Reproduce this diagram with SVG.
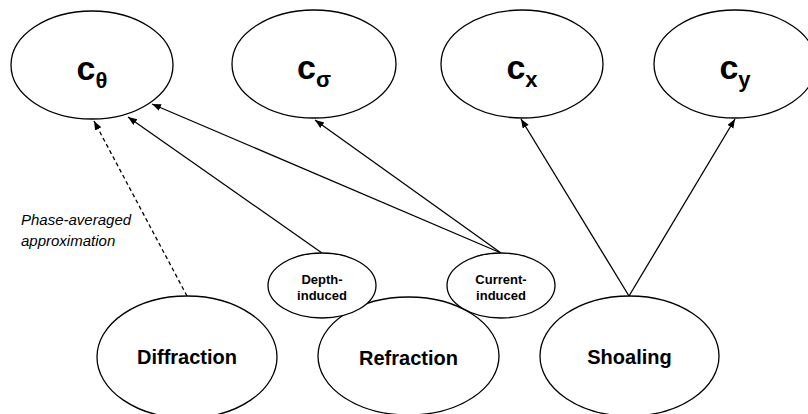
<svg xmlns="http://www.w3.org/2000/svg" width="808" height="414" viewBox="0 0 808 414">
<style>
.n{fill:#fff;stroke:#000;stroke-width:1.3}
.big{font-family:"Liberation Sans",Arial,sans-serif;font-weight:bold;font-size:34px;fill:#000}
.lbl{font-family:"Liberation Sans",Arial,sans-serif;font-weight:bold;font-size:20px;fill:#000}
.sm{font-family:"Liberation Sans",Arial,sans-serif;font-weight:bold;font-size:13px;fill:#000}
.it{font-family:"Liberation Sans",Arial,sans-serif;font-style:italic;font-size:15px;fill:#000}
.e{stroke:#000;stroke-width:1.3;fill:none;marker-end:url(#ah)}
</style>
<defs>
<marker id="ah" markerUnits="userSpaceOnUse" markerWidth="10" markerHeight="8" refX="9" refY="3.5" orient="auto">
<path d="M0,0 L9,3.5 L0,7 z" fill="#000"/>
</marker>
</defs>
<rect width="808" height="414" fill="#fff"/>
<g id="c_theta"><ellipse class="n" cx="92" cy="65" rx="81" ry="54"/><text class="big" x="92" y="80" text-anchor="middle">c<tspan font-size="22" dy="8">θ</tspan></text></g>
<g id="c_sigma"><ellipse class="n" cx="314" cy="64" rx="82" ry="54"/><text class="big" x="314" y="79" text-anchor="middle">c<tspan font-size="22" dy="8">σ</tspan></text></g>
<g id="c_x"><ellipse class="n" cx="522" cy="64" rx="81" ry="54"/><text class="big" x="522" y="79" text-anchor="middle">c<tspan font-size="22" dy="8">x</tspan></text></g>
<g id="c_y"><ellipse class="n" cx="735" cy="64" rx="81" ry="54"/><text class="big" x="735" y="79" text-anchor="middle">c<tspan font-size="22" dy="8">y</tspan></text></g>
<g id="connectors">
<line class="e" x1="187" y1="296" x2="94" y2="121" stroke-dasharray="4,3"/>
<line class="e" x1="322" y1="253" x2="128" y2="117"/>
<line class="e" x1="501" y1="253" x2="152" y2="104"/>
<line class="e" x1="501" y1="253" x2="315" y2="120"/>
<line class="e" x1="629" y1="296" x2="521" y2="119"/>
<line class="e" x1="629" y1="296" x2="735" y2="119"/>
</g>
<text class="it" x="21" y="225">Phase-averaged</text>
<text class="it" x="21" y="246">approximation</text>
<g id="diffraction"><ellipse class="n" cx="187" cy="357" rx="90" ry="61"/><text class="lbl" x="187" y="364" text-anchor="middle">Diffraction</text></g>
<g id="refraction"><ellipse class="n" cx="408.5" cy="356" rx="90.5" ry="59"/><text class="lbl" x="408.5" y="365" text-anchor="middle">Refraction</text></g>
<g id="shoaling"><ellipse class="n" cx="629.5" cy="356" rx="89.5" ry="60"/><text class="lbl" x="629.5" y="364" text-anchor="middle">Shoaling</text></g>
<g id="depth_induced"><ellipse class="n" cx="322" cy="285.5" rx="54" ry="32.5"/><text class="sm" x="322" y="284" text-anchor="middle">Depth-</text><text class="sm" x="322" y="300" text-anchor="middle">induced</text></g>
<g id="current_induced"><ellipse class="n" cx="501" cy="285.5" rx="54" ry="32.5"/><text class="sm" x="501" y="284" text-anchor="middle">Current-</text><text class="sm" x="501" y="300" text-anchor="middle">induced</text></g>
</svg>
